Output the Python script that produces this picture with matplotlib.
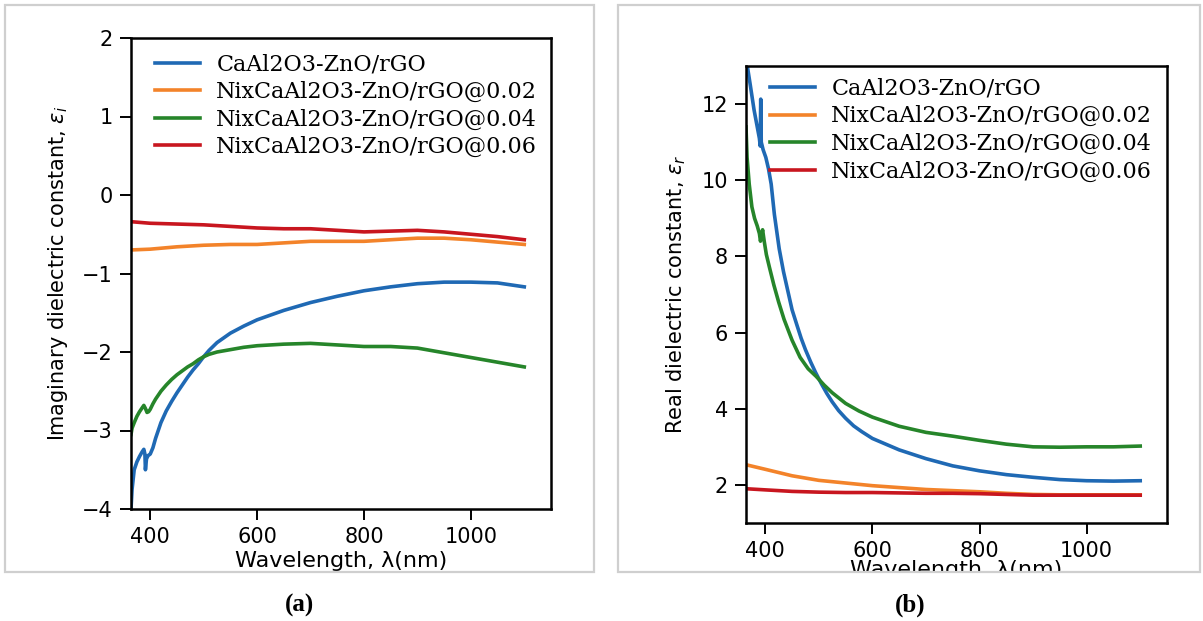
import matplotlib
matplotlib.use("Agg")
import matplotlib.pyplot as plt
from matplotlib.patches import Rectangle
from matplotlib.transforms import Bbox, TransformedBbox

# ---------------------------------------------------------------------
# data
# ---------------------------------------------------------------------
labels = [
    "CaAl2O3-ZnO/rGO",
    "NixCaAl2O3-ZnO/rGO@0.02",
    "NixCaAl2O3-ZnO/rGO@0.04",
    "NixCaAl2O3-ZnO/rGO@0.06",
]
colors = ["#1f69b4", "#f3832a", "#26852a", "#c8161f"]

# (a) imaginary part
wl_a_blue = [364, 366, 370, 375, 380, 385, 388, 390, 391, 393, 396, 400, 405, 410,
             420, 430, 440, 450, 460, 470, 480, 490, 500, 510, 525, 550, 575, 600,
             650, 700, 750, 800, 850, 900, 950, 1000, 1050, 1100]
eps_i_blue = [-4.0, -3.75, -3.5, -3.4, -3.33, -3.27, -3.24, -3.3, -3.5, -3.36, -3.32,
              -3.3, -3.22, -3.1, -2.9, -2.75, -2.63, -2.52, -2.42, -2.32, -2.23,
              -2.15, -2.06, -1.98, -1.88, -1.76, -1.67, -1.59, -1.47, -1.37, -1.29,
              -1.22, -1.17, -1.13, -1.11, -1.11, -1.12, -1.17]

wl_a_green = [364, 366, 370, 375, 380, 385, 388, 391, 394, 397, 400, 405, 410, 420,
              430, 440, 450, 460, 470, 480, 490, 500, 510, 525, 550, 575, 600, 650,
              700, 750, 800, 850, 900, 950, 1000, 1050, 1100]
eps_i_green = [-3.05, -2.97, -2.9, -2.82, -2.76, -2.71, -2.68, -2.72, -2.77, -2.76,
               -2.73, -2.66, -2.6, -2.5, -2.42, -2.35, -2.29, -2.24, -2.19, -2.15,
               -2.1, -2.06, -2.03, -2.0, -1.97, -1.94, -1.92, -1.9, -1.89, -1.91,
               -1.93, -1.93, -1.95, -2.01, -2.07, -2.13, -2.19]

wl_flat = [364, 400, 450, 500, 550, 600, 650, 700, 750, 800, 850, 900, 950, 1000,
           1050, 1100]
eps_i_orange = [-0.70, -0.69, -0.66, -0.64, -0.63, -0.63, -0.61, -0.59, -0.59, -0.59,
                -0.57, -0.55, -0.55, -0.57, -0.60, -0.63]
eps_i_red = [-0.34, -0.36, -0.37, -0.38, -0.40, -0.42, -0.43, -0.43, -0.45, -0.47,
             -0.46, -0.45, -0.47, -0.50, -0.53, -0.57]

# (b) real part
wl_b_blue = [365, 367, 372, 379, 385, 389, 390.5, 391.5, 392.5, 396, 401, 406, 411,
             417, 426, 434, 442, 450, 459, 467, 475, 485, 494, 505, 515, 525, 537,
             550, 565, 580, 600, 650, 700, 750, 800, 850, 900, 950, 1000, 1050, 1100]
eps_r_blue = [13.3, 12.95, 12.5, 11.85, 11.4, 11.1, 10.9, 12.13, 11.0, 10.8, 10.6,
              10.3, 9.9, 9.1, 8.2, 7.6, 7.1, 6.6, 6.2, 5.85, 5.55, 5.22, 4.95, 4.65,
              4.4, 4.18, 3.95, 3.75, 3.55, 3.4, 3.22, 2.92, 2.69, 2.5, 2.37, 2.27,
              2.2, 2.14, 2.11, 2.1, 2.11]

wl_b_green = [364, 366, 370, 375, 380, 385, 389, 391, 393, 395, 398, 402, 408, 416,
              425, 435, 450, 465, 480, 495, 510, 525, 550, 575, 600, 650, 700, 750,
              800, 850, 900, 950, 1000, 1050, 1100]
eps_r_green = [11.4, 10.6, 9.9, 9.3, 9.0, 8.8, 8.6, 8.4, 8.55, 8.7, 8.4, 8.05, 7.7,
               7.25, 6.8, 6.35, 5.8, 5.35, 5.05, 4.85, 4.62, 4.42, 4.14, 3.94, 3.78,
               3.54, 3.38, 3.28, 3.17, 3.07, 3.0, 2.99, 3.0, 3.0, 3.02]

eps_r_orange = [2.53, 2.41, 2.24, 2.12, 2.05, 1.98, 1.93, 1.88, 1.85, 1.82, 1.78,
                1.75, 1.74, 1.74, 1.74, 1.74]
eps_r_red = [1.90, 1.87, 1.83, 1.81, 1.80, 1.80, 1.79, 1.78, 1.78, 1.77, 1.75, 1.73,
             1.73, 1.73, 1.73, 1.73]

xticks = [400, 600, 800, 1000]

# ---------------------------------------------------------------------
W, H = 1203, 621
fig = plt.figure(figsize=(W / 100, H / 100), dpi=100)


def fx(px):
    return px / W


def fy(py):
    return 1 - py / H


def panel_box(x0, y0, x1, y1):
    fig.add_artist(Rectangle((fx(x0), fy(y1)), fx(x1 - x0), (y1 - y0) / H,
                             transform=fig.transFigure, fill=False,
                             edgecolor="#cfcfcf", lw=1.6))


def style_axes(ax):
    for s in ax.spines.values():
        s.set_linewidth(1.8)
    ax.tick_params(direction="out", length=8, width=1.4, labelsize=15, pad=5)
    ax.set_xticks(xticks)
    ax.set_xlim(364, 1150)


def add_legend(ax, top):
    ax.legend(loc="upper left", bbox_to_anchor=(0.01, top), frameon=False,
              prop={"family": "DejaVu Serif", "size": 16}, handlelength=2.0,
              handletextpad=0.75, labelspacing=0.25)


panel_box(5, 5, 594, 572)
panel_box(618, 5, 1200, 572)

# (a)
ax1 = fig.add_axes([fx(131), fy(509), fx(551 - 131), (509 - 38) / H])
series_a = [(wl_a_blue, eps_i_blue), (wl_flat, eps_i_orange),
            (wl_a_green, eps_i_green), (wl_flat, eps_i_red)]
for (wl, eps), c, lab in zip(series_a, colors, labels):
    ax1.plot(wl, eps, color=c, lw=2.6, label=lab)
ax1.set_ylim(-4, 2)
ax1.set_yticks([-4, -3, -2, -1, 0, 1, 2])
style_axes(ax1)
ax1.set_xlabel("Wavelength, \u03bb(nm)", fontsize=16, labelpad=3)
ax1.set_ylabel(r"Imaginary dielectric constant, $\varepsilon_i$", fontsize=15,
               labelpad=9)
add_legend(ax1, 1.01)

# (b)
ax2 = fig.add_axes([fx(746), fy(523), fx(1167 - 746), (523 - 66) / H])
series_b = [(wl_b_blue, eps_r_blue), (wl_flat, eps_r_orange),
            (wl_b_green, eps_r_green), (wl_flat, eps_r_red)]
for (wl, eps), c, lab in zip(series_b, colors, labels):
    ax2.plot(wl, eps, color=c, lw=2.6, label=lab)
ax2.set_ylim(1.0, 13.0)
ax2.set_yticks([2, 4, 6, 8, 10, 12])
style_axes(ax2)
xl = ax2.set_xlabel("Wavelength, \u03bb(nm)", fontsize=16, labelpad=-1)
xl.set_clip_box(TransformedBbox(Bbox.from_extents(fx(618), fy(571), 1, 1),
                                fig.transFigure))
xl.set_clip_on(True)
ax2.set_ylabel(r"Real dielectric constant, $\varepsilon_r$", fontsize=15,
               labelpad=10)
add_legend(ax2, 1.018)

# captions
fig.text(fx(300), fy(605), "(a)", ha="center", va="center",
         family="Liberation Serif", weight="bold", fontsize=18)
fig.text(fx(910), fy(605), "(b)", ha="center", va="center",
         family="Liberation Serif", weight="bold", fontsize=18)

fig.savefig("out.png", dpi=100)
